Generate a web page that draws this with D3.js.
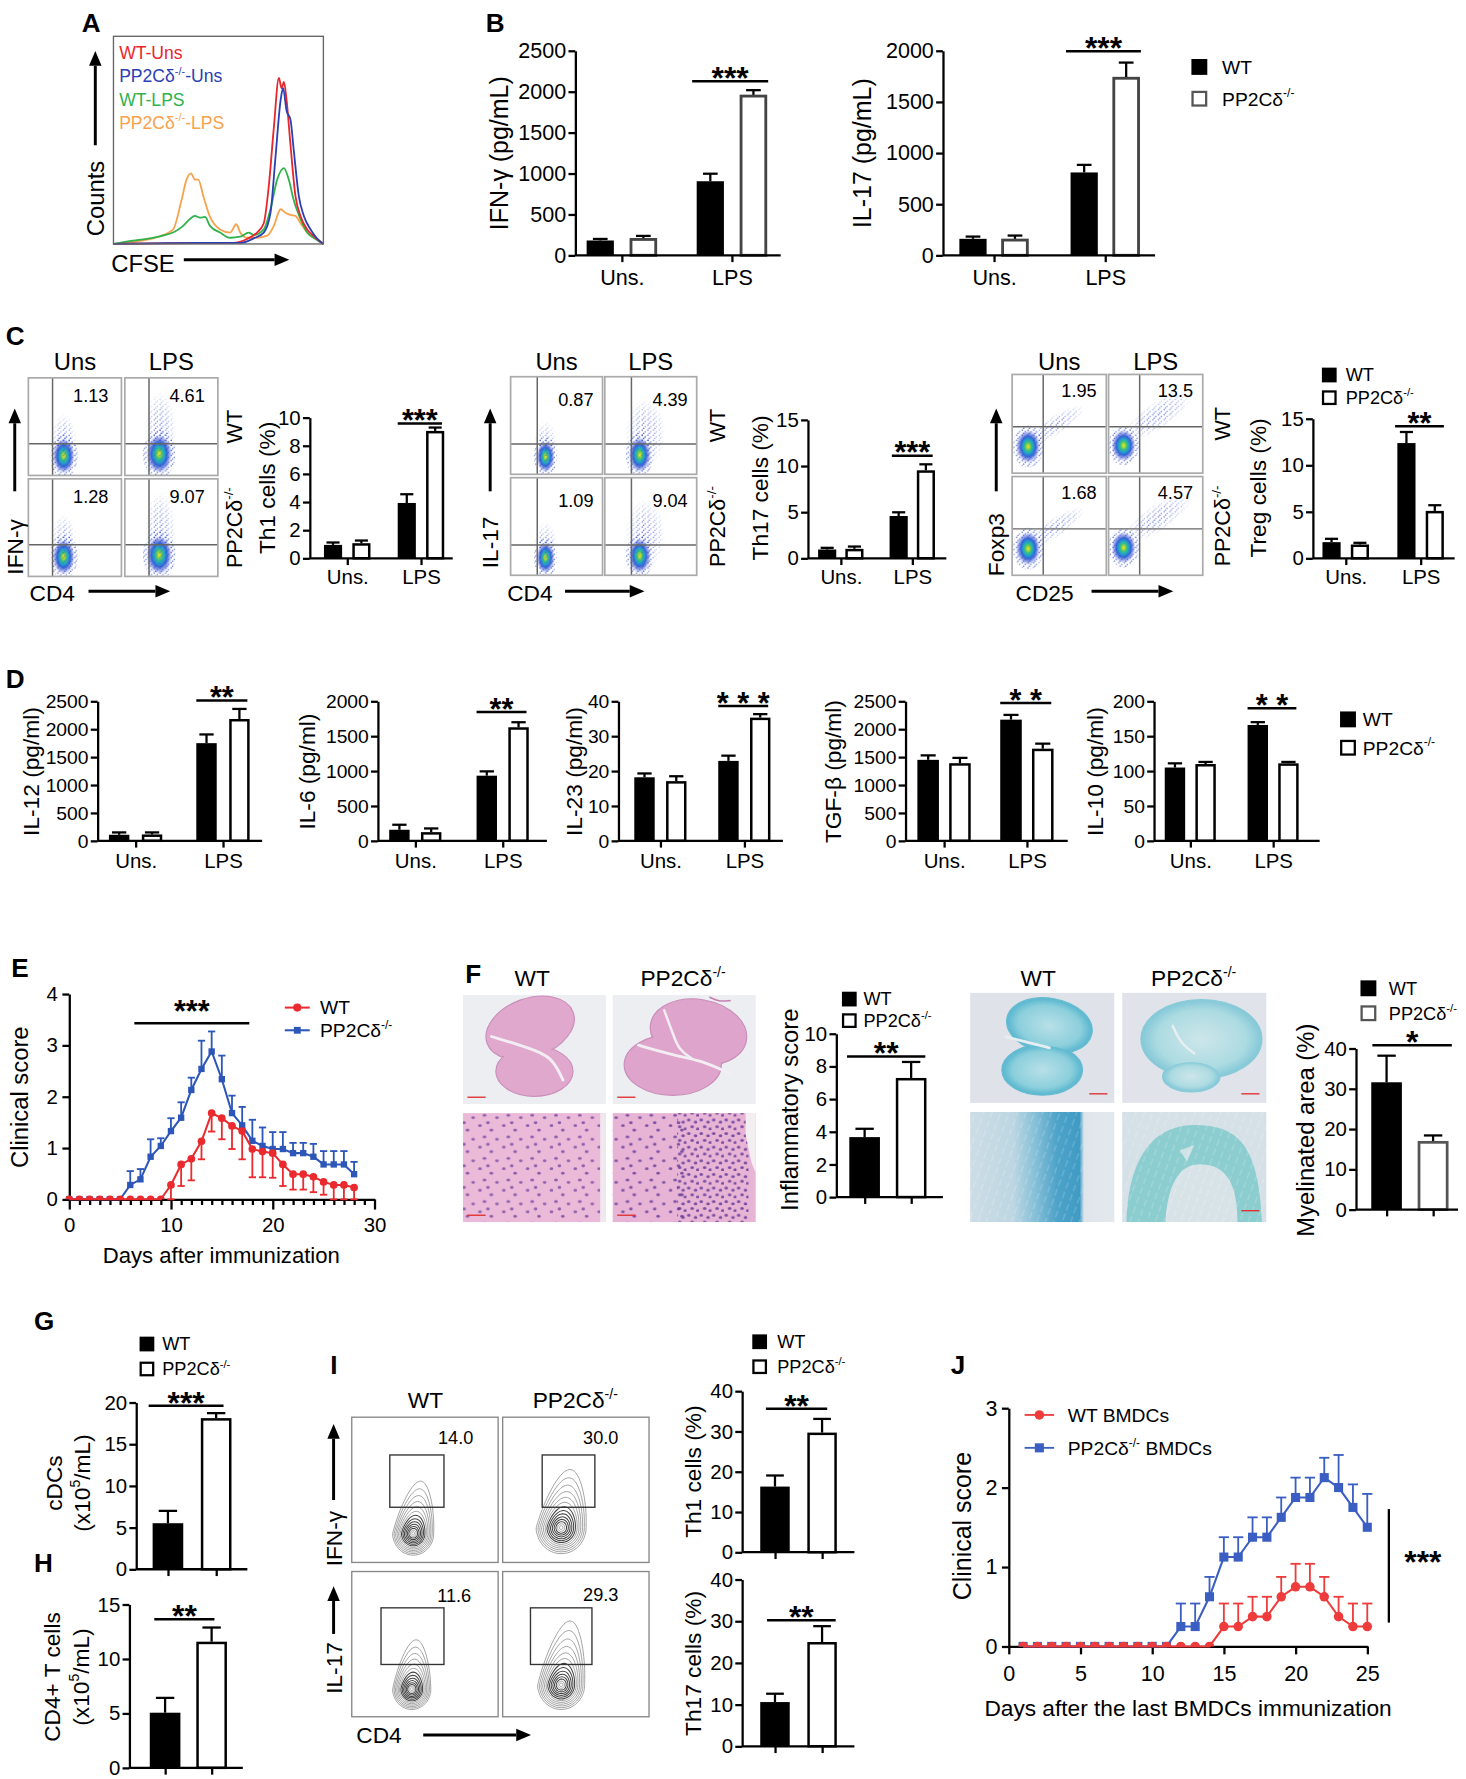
<!DOCTYPE html>
<html><head><meta charset="utf-8">
<script src="https://cdn.jsdelivr.net/npm/d3@7"></script>
<style>body{margin:0;background:#fff}svg{display:block}</style>
</head><body><script>
// ================= DATA =================
const CATS = ["Uns.", "LPS"];
const GENO = ["WT", "KO"];
const KO_LABEL = "PP2Cδ^{-/-}";

// Panel A: CFSE histograms (channel 0-1000, % of max)
const A_WTUns_x = [0,200,400,572,636,684,716,740,764,788,801,812,825,843,867,891,923,963,1000];
const A_WTUns_y = [0,0.3,0.4,0.5,2.4,5.5,10,28,56,80,75,78,69,48,23,13.5,7,3,0];
const A_KOUns_x = [0,200,400,604,668,716,748,772,796,808,825,843,859,883,907,939,971,1000];
const A_KOUns_y = [0,0.3,0.5,0.5,2.7,5.5,15,42,69,75,64,60,45,23,13.5,7,2.5,0];
const A_WTLPS_x = [0,93,157,220,284,332,364,388,412,436,460,508,556,604,644,668,716,748,780,812,835,859,891,923,963,1000];
const A_WTLPS_y = [0,1.6,2.4,3.7,5.5,8.7,12,13.5,12.7,13,8.7,5.5,3,3.5,5.5,4.3,7,16.7,31,36.5,31,21,12,5.5,2.4,0];
const A_KOLPS_x = [0,220,284,324,348,369,388,404,428,460,508,556,585,604,636,684,732,764,796,819,843,867,891,923,963,1000];
const A_KOLPS_y = [0,3.7,7,21,31,34,31,31,23,13,7,5.5,9.5,5.5,3,3,4,8.7,16.7,15,14,13.5,10,5.5,2.4,0];
const A_LEGEND = ["WT-Uns", "PP2Cδ^{-/-}-Uns", "WT-LPS", "PP2Cδ^{-/-}-LPS"];

// Panel B
const B_IFNG_WT = [181, 905], B_IFNG_WT_ERR = [19, 92], B_IFNG_KO = [209, 1961], B_IFNG_KO_ERR = [28, 57];
const B_IL17_WT = [161, 810], B_IL17_WT_ERR = [22, 74], B_IL17_KO = [161, 1743], B_IL17_KO_ERR = [32, 141];
const B_IFNG_TICKS = [0, 500, 1000, 1500, 2000, 2500];
const B_IL17_TICKS = [0, 500, 1000, 1500, 2000];

// Panel C
const C_TH1_WT = [0.95, 3.93], C_TH1_WT_ERR = [0.17, 0.62], C_TH1_KO = [1.07, 9.05], C_TH1_KO_ERR = [0.19, 0.24];
const C_TH17_WT = [0.95, 4.58], C_TH17_WT_ERR = [0.18, 0.40], C_TH17_KO = [1.02, 9.53], C_TH17_KO_ERR = [0.25, 0.65];
const C_TREG_WT = [1.73, 12.38], C_TREG_WT_ERR = [0.36, 1.19], C_TREG_KO = [1.48, 5.09], C_TREG_KO_ERR = [0.18, 0.61];
const C_TH1_TICKS = [0, 2, 4, 6, 8, 10];
const C_15_TICKS = [0, 5, 10, 15];
const C_TH1_QUAD = ["1.13", "4.61", "1.28", "9.07"];
const C_TH17_QUAD = ["0.87", "4.39", "1.09", "9.04"];
const C_TREG_QUAD = ["1.95", "13.5", "1.68", "4.57"];

// Panel D
const D_IL12_WT = [108, 1749], D_IL12_WT_ERR = [42, 156], D_IL12_KO = [114, 2182], D_IL12_KO_ERR = [36, 180];
const D_IL6_WT = [158, 933], D_IL6_WT_ERR = [72, 62], D_IL6_KO = [124, 1627], D_IL6_KO_ERR = [53, 72];
const D_IL23_WT = [18.2, 22.9], D_IL23_WT_ERR = [1.1, 1.5], D_IL23_KO = [17.1, 35.3], D_IL23_KO_ERR = [1.4, 1.0];
const D_TGFB_WT = [1450, 2170], D_TGFB_WT_ERR = [80, 85], D_TGFB_KO = [1390, 1650], D_TGFB_KO_ERR = [95, 90];
const D_IL10_WT = [105, 166], D_IL10_WT_ERR = [6, 4], D_IL10_KO = [110, 111], D_IL10_KO_ERR = [3, 2];
const D_2500_TICKS = [0, 500, 1000, 1500, 2000, 2500];
const D_2000_TICKS = [0, 500, 1000, 1500, 2000];
const D_40_TICKS = [0, 10, 20, 30, 40];
const D_200_TICKS = [0, 50, 100, 150, 200];

// Panel E (clinical score, days 0-28)
const E_DAYS = [0,1,2,3,4,5,6,7,8,9,10,11,12,13,14,15,16,17,18,19,20,21,22,23,24,25,26,27,28];
const E_WT = [0,0,0,0,0,0,0,0,0,0,0.28,0.68,0.79,1.13,1.68,1.58,1.43,1.33,0.98,0.93,0.9,0.68,0.49,0.49,0.44,0.34,0.28,0.28,0.23];
const E_WT_ERR = [0,0,0,0,0,0,0,0,0,0,0.28,0.42,0.42,0.35,0.36,0.41,0.45,0.55,0.55,0.5,0.48,0.42,0.3,0.3,0.3,0.25,0.28,0.28,0.23];
const E_KO = [0,0,0,0,0,0,0.28,0.39,0.83,1.04,1.33,1.59,2.13,2.54,2.88,2.34,1.68,1.44,1.14,1.04,0.98,0.98,0.9,0.9,0.83,0.68,0.68,0.68,0.49];
const E_KO_ERR = [0,0,0,0,0,0,0.27,0.2,0.34,0.15,0.25,0.3,0.24,0.55,0.39,0.46,0.34,0.36,0.41,0.36,0.33,0.33,0.2,0.2,0.25,0.26,0.26,0.26,0.24];

// Panel F
const F_INFL = [3.67, 7.29], F_INFL_ERR = [0.51, 0.98];
const F_MYEL = [31.6, 17.0], F_MYEL_ERR = [6.6, 1.4];

// Panels G, H, I
const G_CDC = [5.52, 18.12], G_CDC_ERR = [1.48, 0.6];
const H_CD4 = [5.06, 11.58], H_CD4_ERR = [1.36, 1.3];
const I_TH1 = [16.3, 29.7], I_TH1_ERR = [2.75, 3.4];
const I_TH17 = [10.6, 25.0], I_TH17_ERR = [2.0, 3.8];
const I_GATES = ["14.0", "30.0", "11.6", "29.3"];

// Panel J (days 1-25)
const J_DAYS = [1,2,3,4,5,6,7,8,9,10,11,12,13,14,15,16,17,18,19,20,21,22,23,24,25];
const J_WT = [0,0,0,0,0,0,0,0,0,0,0,0,0,0,0.25,0.25,0.375,0.375,0.625,0.75,0.75,0.625,0.375,0.25,0.25];
const J_WT_ERR = [0,0,0,0,0,0,0,0,0,0,0,0,0,0,0.29,0.29,0.25,0.25,0.25,0.29,0.29,0.25,0.25,0.29,0.29];
const J_KO = [0,0,0,0,0,0,0,0,0,0,0,0.25,0.25,0.625,1.125,1.125,1.375,1.375,1.625,1.875,1.875,2.125,2.0,1.75,1.5];
const J_KO_ERR = [0,0,0,0,0,0,0,0,0,0,0,0.29,0.29,0.25,0.25,0.25,0.25,0.25,0.25,0.25,0.25,0.25,0.41,0.29,0.42];

// ================= SETUP =================
const FONT = '"Liberation Sans", Arial, Helvetica, sans-serif';
const K = 1466 / 1292;
const svg = d3.select("body").append("svg").attr("width", 1466).attr("height", 1779).attr("font-family", FONT);
svg.append("rect").attr("width", 1466).attr("height", 1779).attr("fill", "#fff");
const defs = svg.append("defs");
const root = svg.append("g").attr("transform", `scale(${K})`);
const fmt = d3.format("d");

function rich(t, s, size) {
  const parts = s.split(/(\^\{[^}]*\})/);
  let sup = false;
  parts.forEach(p => {
    if (!p) return;
    const m = p.match(/^\^\{([^}]*)\}$/);
    if (m) { t.append("tspan").attr("dy", -0.42 * size).attr("font-size", 0.62 * size).text(m[1]); sup = true; }
    else { const ts = t.append("tspan").text(p); if (sup) { ts.attr("dy", 0.42 * size); sup = false; } }
  });
}
function T(g, x, y, s, o = {}) {
  const size = o.size || 17;
  const t = g.append("text").attr("x", x).attr("y", y).attr("font-size", size)
    .attr("fill", o.fill || "#000").attr("text-anchor", o.anchor || "start");
  if (o.bold) t.attr("font-weight", "bold");
  if (o.rot) t.attr("transform", `rotate(${o.rot},${x},${y})`);
  rich(t, s, size);
  return t;
}
function RT(g, xc, yc, s, size) { return T(g, xc + 0.35 * size, yc, s, { size, rot: -90, anchor: "middle" }); }
function letter(g, x, y, s) { T(g, x, y, s, { size: 23, bold: true }); }
function arrow(g, x1, y1, x2, y2, sw = 2.6, hl = 13, hw = 5.5) {
  const dx = x2 - x1, dy = y2 - y1, L = Math.hypot(dx, dy), ux = dx / L, uy = dy / L;
  const bx = x2 - ux * hl, by = y2 - uy * hl;
  g.append("line").attr("x1", x1).attr("y1", y1).attr("x2", bx).attr("y2", by).attr("stroke", "#000").attr("stroke-width", sw);
  g.append("path").attr("d", `M${x2},${y2}L${bx - uy * hw},${by + ux * hw}L${bx + uy * hw},${by - ux * hw}Z`).attr("fill", "#000");
}
function legend2(g, x, y1, y2, sq, tx, size, wStroke = "#000") {
  g.append("rect").attr("x", x).attr("y", y1).attr("width", sq).attr("height", sq).attr("fill", "#000");
  g.append("rect").attr("x", x + 1).attr("y", y2 + 1).attr("width", sq - 2).attr("height", sq - 2)
    .attr("fill", "#fff").attr("stroke", wStroke).attr("stroke-width", 2);
  T(g, tx, y1 + sq - 1, "WT", { size });
  T(g, tx, y2 + sq - 1, KO_LABEL, { size });
}
function styleAxis(a, size) {
  a.attr("font-size", size).attr("font-family", FONT);
  a.select(".domain").attr("stroke-width", 2).attr("stroke", "#000");
  a.selectAll(".tick line").attr("stroke-width", 2).attr("stroke", "#000");
  a.selectAll(".tick text").attr("fill", "#000");
}

// ---------- bar chart ----------
function bars4(wt, wte, ko, koe) { return CATS.flatMap((g, i) => [{ g, s: "WT", v: wt[i], e: wte[i] }, { g, s: "KO", v: ko[i], e: koe[i] }]); }
function bars2(v, e) { return GENO.map((g, i) => ({ g, s: g, v: v[i], e: e[i] })); }

function barChart(g, c) {
  const y = d3.scaleLinear().domain([0, c.max]).range([c.base, c.top]);
  const groups = c.two ? GENO : CATS;
  const gx = d3.scalePoint().domain(groups).range(c.centers);
  const inner = c.two ? null : d3.scaleBand().domain(GENO).range([-(c.bw + c.gap / 2), c.bw + c.gap / 2]).paddingInner(c.gap / (c.bw + c.gap));
  const bw = c.two ? c.bw : inner.bandwidth();
  const left = d => c.two ? gx(d.g) - bw / 2 : gx(d.g) + inner(d.s);
  c.bars.forEach(d => {
    const x0 = left(d), yt = y(d.v);
    if (d.s === "WT") {
      g.append("rect").attr("x", x0).attr("y", yt).attr("width", bw).attr("height", c.base - yt).attr("fill", "#000");
    } else {
      g.append("rect").attr("x", x0 + 1.1).attr("y", yt + 1.1).attr("width", bw - 2.2).attr("height", c.base - yt - 1.1)
        .attr("fill", "#fff").attr("stroke", c.wStroke || "#000").attr("stroke-width", c.wsw || 2.2);
    }
    const cx = x0 + bw / 2, ye = y(d.v + d.e), ch = (c.cap || 0.33) * bw;
    g.append("line").attr("x1", cx).attr("x2", cx).attr("y1", yt).attr("y2", ye).attr("stroke", "#000").attr("stroke-width", 2);
    g.append("line").attr("x1", cx - ch).attr("x2", cx + ch).attr("y1", ye).attr("y2", ye).attr("stroke", "#000").attr("stroke-width", 2);
  });
  g.append("line").attr("x1", c.ax).attr("x2", c.xEnd).attr("y1", c.base).attr("y2", c.base).attr("stroke", "#000").attr("stroke-width", 2);
  const xa = g.append("g").attr("transform", `translate(0,${c.base})`)
    .call(d3.axisBottom(gx).tickSize(6).tickPadding(c.catPad || 4).tickFormat(c.two ? () => "" : d => d));
  xa.select(".domain").remove();
  styleAxis(xa, c.catSize || 18);
  const ya = g.append("g").attr("transform", `translate(${c.ax},0)`)
    .call(d3.axisLeft(y).tickValues(c.ticks).tickSize(6).tickSizeOuter(0).tickPadding(c.tickPad || 2).tickFormat(fmt));
  styleAxis(ya, c.tickSize || 18);
  if (c.sig) {
    const s = c.sig;
    const a = c.bars.find(d => d.g === s.a[0] && d.s === s.a[1]);
    const b = c.bars.find(d => d.g === s.b[0] && d.s === s.b[1]);
    const x1 = left(a) + (s.o1 || 0), x2 = left(b) + bw + (s.o2 || 0), ys = y(s.v);
    g.append("line").attr("x1", x1).attr("x2", x2).attr("y1", ys).attr("y2", ys).attr("stroke", "#000").attr("stroke-width", 2.2);
    const ss = s.size || 27;
    T(g, (x1 + x2) / 2, ys + 0.25 * ss, s.label, { size: ss, anchor: "middle", bold: true });
  }
  if (c.ylab) c.ylab.forEach(l => RT(g, l.x, l.yc, l.t, l.size || 20));
}

// ---------- gradients/patterns ----------
const gd = defs.append("radialGradient").attr("id", "dens");
[[0, "#f0e020", 1], [0.12, "#a8d838", 1], [0.26, "#3cc07a", 1], [0.42, "#20a2cc", 1], [0.6, "#2256d2", 0.9], [0.8, "#3a4ed0", 0.45], [1, "#7080e0", 0]]
  .forEach(s => gd.append("stop").attr("offset", s[0]).attr("stop-color", s[1]).attr("stop-opacity", s[2]));
const gm = defs.append("radialGradient").attr("id", "sprMask");
[[0, "#fff", 1], [0.55, "#fff", 0.6], [1, "#fff", 0]].forEach(s => gm.append("stop").attr("offset", s[0]).attr("stop-color", s[1]).attr("stop-opacity", s[2]));
const pDots = defs.append("pattern").attr("id", "dots").attr("patternUnits", "userSpaceOnUse").attr("width", 5).attr("height", 4.5);
[[1, 1, "#3a52c8"], [3.6, 2.6, "#6a80dc"], [2.2, 4, "#4a62d0"]].forEach(p => pDots.append("circle").attr("cx", p[0]).attr("cy", p[1]).attr("r", 0.65).attr("fill", p[2]));
const pS = defs.append("pattern").attr("id", "nucS").attr("patternUnits", "userSpaceOnUse").attr("width", 21).attr("height", 19);
[[3, 4], [13, 8], [7, 14], [18, 16], [10, 1.5]].forEach(p => pS.append("ellipse").attr("cx", p[0]).attr("cy", p[1]).attr("rx", 1.6).attr("ry", 1.2).attr("fill", "#6a3f9c"));
const pD = defs.append("pattern").attr("id", "nucD").attr("patternUnits", "userSpaceOnUse").attr("width", 11).attr("height", 12);
[[2, 3], [8, 5], [5, 9], [10, 11]].forEach(p => pD.append("ellipse").attr("cx", p[0]).attr("cy", p[1]).attr("rx", 1.6).attr("ry", 1.3).attr("fill", "#5e3592"));
const lw = defs.append("linearGradient").attr("id", "lfbW");
[[0, "#cddde6"], [0.3, "#bcd6e2"], [0.45, "#86c0d8"], [0.6, "#4ea3c9"], [0.76, "#3f9bc5"], [0.79, "#dfe6eb"], [1, "#e3e8ec"]]
  .forEach(s => lw.append("stop").attr("offset", s[0]).attr("stop-color", s[1]));
const pStr = defs.append("pattern").attr("id", "lfbTex").attr("patternUnits", "userSpaceOnUse").attr("width", 7).attr("height", 9).attr("patternTransform", "rotate(20)");
pStr.append("line").attr("x1", 2).attr("x2", 2).attr("y1", 0).attr("y2", 6).attr("stroke", "#ffffff").attr("stroke-width", 1).attr("opacity", 0.22);
const lt = defs.append("radialGradient").attr("id", "lfbT");
[[0, "#b8e0e8"], [0.75, "#8ccfdc"], [1, "#5cb8d0"]].forEach(s => lt.append("stop").attr("offset", s[0]).attr("stop-color", s[1]));
const lt2 = defs.append("radialGradient").attr("id", "lfbT2");
[[0, "#cde6ea"], [0.75, "#acdbe2"], [1, "#86c9d8"]].forEach(s => lt2.append("stop").attr("offset", s[0]).attr("stop-color", s[1]));
let clipN = 0;
function clipRect(x, y, w, h) {
  const id = "cl" + (clipN++);
  defs.append("clipPath").attr("id", id).append("rect").attr("x", x).attr("y", y).attr("width", w).attr("height", h);
  return `url(#${id})`;
}

// ================= PANEL A =================
{
  const g = root.append("g");
  letter(g, 72, 28, "A");
  const x = d3.scaleLinear().domain([0, 1000]).range([100, 285]);
  const y = d3.scaleLinear().domain([0, 100]).range([215, 32]);
  const line = d3.line().x(d => x(d[0])).y(d => y(d[1])).curve(d3.curveMonotoneX);
  const series = [[A_KOLPS_x, A_KOLPS_y, "#f7a24c"], [A_WTLPS_x, A_WTLPS_y, "#2fb24b"], [A_WTUns_x, A_WTUns_y, "#e8262c"], [A_KOUns_x, A_KOUns_y, "#2b40b4"]];
  series.forEach(s => g.append("path").datum(s[0].map((v, i) => [v, s[1][i]])).attr("d", line)
    .attr("fill", "none").attr("stroke", s[2]).attr("stroke-width", 1.6));
  g.append("rect").attr("x", 100).attr("y", 32).attr("width", 185).attr("height", 183).attr("fill", "none").attr("stroke", "#666").attr("stroke-width", 1.2);
  const cols = ["#e8262c", "#2b40b4", "#2fb24b", "#f7a24c"];
  A_LEGEND.forEach((t, i) => T(g, 105, 52 + i * 20.5, t, { size: 15.5, fill: cols[i] }));
  arrow(g, 84, 128, 84, 45);
  RT(g, 84, 175, "Counts", 21);
  T(g, 98, 240, "CFSE", { size: 21 });
  arrow(g, 162, 229, 255, 229);
}

// ================= PANEL B =================
{
  const g = root.append("g");
  letter(g, 428, 28, "B");
  barChart(g, { ax: 507, xEnd: 688, base: 225, top: 44.7, max: 2500, ticks: B_IFNG_TICKS, centers: [548, 645], bw: 24, gap: 14,
    bars: bars4(B_IFNG_WT, B_IFNG_WT_ERR, B_IFNG_KO, B_IFNG_KO_ERR), catSize: 19, catPad: 7, tickSize: 19, wStroke: "#444", wsw: 2.5, cap: 0.27,
    sig: { a: ["LPS", "WT"], b: ["LPS", "KO"], v: 2126, label: "***", o1: -4, o2: 1, size: 28 },
    ylab: [{ x: 440, yc: 135, t: "IFN-γ (pg/mL)", size: 22 }] });
  barChart(g, { ax: 831, xEnd: 1018, base: 225, top: 44.7, max: 2000, ticks: B_IL17_TICKS, centers: [876, 974], bw: 24, gap: 13,
    bars: bars4(B_IL17_WT, B_IL17_WT_ERR, B_IL17_KO, B_IL17_KO_ERR), catSize: 19, catPad: 7, tickSize: 19, wStroke: "#444", wsw: 2.5, cap: 0.27,
    sig: { a: ["LPS", "WT"], b: ["LPS", "KO"], v: 1994, label: "***", o1: -4, o2: 1, size: 28 },
    ylab: [{ x: 760, yc: 135, t: "IL-17 (pg/mL)", size: 22 }] });
  legend2(g, 1050, 52, 80, 14, 1077, 17, "#555");
}

// ================= PANEL C =================
let maskN = 0;
function flowBox(g, x, y, w, h, vx, hy, blobs, num, nfx, ndy) {
  g.append("rect").attr("x", x).attr("y", y).attr("width", w).attr("height", h).attr("fill", "#fff");
  const cg = g.append("g").attr("clip-path", clipRect(x, y, w, h));
  blobs.forEach(b => {
    const cx = x + b[0] * w, cy = y + b[1] * h, tr = `rotate(${b[4] || 0},${cx},${cy})`;
    if (b[5] === "spr") {
      const id = "mk" + (maskN++);
      defs.append("mask").attr("id", id).attr("maskUnits", "userSpaceOnUse").attr("x", x).attr("y", y).attr("width", w).attr("height", h)
        .append("ellipse").attr("cx", cx).attr("cy", cy).attr("rx", b[2] * w).attr("ry", b[3] * h).attr("fill", "url(#sprMask)").attr("transform", tr);
      cg.append("rect").attr("x", x).attr("y", y).attr("width", w).attr("height", h).attr("fill", "url(#dots)").attr("mask", `url(#${id})`);
    } else {
      cg.append("ellipse").attr("cx", cx).attr("cy", cy).attr("rx", b[2] * w * 1.25).attr("ry", b[3] * h * 1.25)
        .attr("fill", "url(#dots)").attr("transform", tr).attr("opacity", 0.9);
      cg.append("ellipse").attr("cx", cx).attr("cy", cy).attr("rx", b[2] * w).attr("ry", b[3] * h)
        .attr("fill", "url(#dens)").attr("transform", tr);
    }
  });
  g.append("line").attr("x1", x + vx * w).attr("x2", x + vx * w).attr("y1", y).attr("y2", y + h).attr("stroke", "#666").attr("stroke-width", 1.3);
  g.append("line").attr("x1", x).attr("x2", x + w).attr("y1", y + hy * h).attr("y2", y + hy * h).attr("stroke", "#666").attr("stroke-width", 1.3);
  g.append("rect").attr("x", x).attr("y", y).attr("width", w).attr("height", h).attr("fill", "none").attr("stroke", "#aaa").attr("stroke-width", 1.5);
  T(g, x + nfx * w, y + ndy, num, { size: 16, anchor: "middle" });
}
function flowPanel(g, o) {
  const xs = o.xs, ys = o.ys, w = o.w, h = o.h;
  T(g, xs[0] + w / 2, 326, "Uns", { size: 21, anchor: "middle" });
  T(g, xs[1] + w / 2, 326, "LPS", { size: 21, anchor: "middle" });
  for (let r = 0; r < 2; r++) for (let c = 0; c < 2; c++) {
    flowBox(g, xs[c], ys[r], w, h, o.vx, o.hy, o.blobs[c], o.nums[r * 2 + c], o.nfx, o.ndy);
  }
  RT(g, o.rowX, ys[0] + h / 2, "WT", 19);
  RT(g, o.rowX, ys[1] + h / 2, KO_LABEL, 19);
  arrow(g, o.arX, 433, o.arX, 360);
  RT(g, o.arX, o.yLabYc, o.yLab, 20);
  T(g, o.xLabX, 530, o.xLab, { size: 20 });
  arrow(g, o.xArr[0], 521, o.xArr[1], 521);
}
{
  const g = root.append("g");
  letter(g, 5, 304, "C");
  flowPanel(g, { xs: [25, 110], ys: [333, 422], w: 82, h: 86, vx: 0.26, hy: 0.675, nums: C_TH1_QUAD, nfx: 0.67, ndy: 21,
    blobs: [[[0.38, 0.8, 0.12, 0.18], [0.38, 0.66, 0.14, 0.3, 0, "spr"]], [[0.37, 0.78, 0.14, 0.2], [0.38, 0.55, 0.17, 0.42, 0, "spr"]]],
    rowX: 207, arX: 13, yLab: "IFN-γ", yLabYc: 482, xLab: "CD4", xLabX: 26, xArr: [78, 150] });
  barChart(g, { ax: 273, xEnd: 399, base: 492, top: 368, max: 10, ticks: C_TH1_TICKS, centers: [306, 371], bw: 16, gap: 9,
    bars: bars4(C_TH1_WT, C_TH1_WT_ERR, C_TH1_KO, C_TH1_KO_ERR), catSize: 18, catPad: 4, tickSize: 18, cap: 0.36,
    sig: { a: ["LPS", "WT"], b: ["LPS", "KO"], v: 9.57, label: "***", o1: 0, o2: -2, size: 27 },
    ylab: [{ x: 235, yc: 430, t: "Th1 cells (%)", size: 20 }] });

  flowPanel(g, { xs: [450, 533], ys: [332, 421], w: 81, h: 86, vx: 0.29, hy: 0.69, nums: C_TH17_QUAD, nfx: 0.71, ndy: 26,
    blobs: [[[0.38, 0.82, 0.1, 0.16], [0.38, 0.72, 0.13, 0.27, 0, "spr"]], [[0.38, 0.8, 0.12, 0.18], [0.44, 0.58, 0.22, 0.36, 0, "spr"]]],
    rowX: 632, arX: 432, yLab: "IL-17", yLabYc: 478, xLab: "CD4", xLabX: 447, xArr: [498, 568] });
  barChart(g, { ax: 712, xEnd: 834, base: 492, top: 370, max: 15, ticks: C_15_TICKS, centers: [741, 804], bw: 16, gap: 8,
    bars: bars4(C_TH17_WT, C_TH17_WT_ERR, C_TH17_KO, C_TH17_KO_ERR), catSize: 18, catPad: 4, tickSize: 18, cap: 0.36,
    sig: { a: ["LPS", "WT"], b: ["LPS", "KO"], v: 11.1, label: "***", o1: 2, o2: -2, size: 27 },
    ylab: [{ x: 670, yc: 430, t: "Th17 cells (%)", size: 20 }] });

  flowPanel(g, { xs: [892, 977], ys: [330, 420], w: 83, h: 87, vx: 0.33, hy: 0.53, nums: C_TREG_QUAD, nfx: 0.71, ndy: 20,
    blobs: [[[0.17, 0.73, 0.13, 0.17], [0.45, 0.52, 0.38, 0.1, -33, "spr"]], [[0.16, 0.72, 0.13, 0.16], [0.52, 0.42, 0.42, 0.14, -33, "spr"]]],
    rowX: 1077, arX: 878, yLab: "Foxp3", yLabYc: 480, xLab: "CD25", xLabX: 895, xArr: [962, 1034] });
  barChart(g, { ax: 1157, xEnd: 1282, base: 492, top: 369, max: 15, ticks: C_15_TICKS, centers: [1186, 1252], bw: 16, gap: 9,
    bars: bars4(C_TREG_WT, C_TREG_WT_ERR, C_TREG_KO, C_TREG_KO_ERR), catSize: 18, catPad: 4, tickSize: 18, cap: 0.36,
    sig: { a: ["LPS", "WT"], b: ["LPS", "KO"], v: 14.2, label: "**", o1: -2, o2: 0, size: 27 },
    ylab: [{ x: 1109, yc: 430, t: "Treg cells (%)", size: 20 }] });
  legend2(g, 1165, 324, 344, 13, 1186, 16);
}

// ================= PANEL D =================
{
  const g = root.append("g");
  letter(g, 5, 606, "D");
  const common = { base: 741, top: 618, catSize: 18, catPad: 5, tickSize: 17, cap: 0.35 };
  const defsD = [
    { ax: 86, xEnd: 231, max: 2500, ticks: D_2500_TICKS, centers: [119.5, 196.5], bw: 18, gap: 11, d: [D_IL12_WT, D_IL12_WT_ERR, D_IL12_KO, D_IL12_KO_ERR], sv: 2512, sl: "**", lx: 27, lt: "IL-12 (pg/ml)" },
    { ax: 333, xEnd: 482, max: 2000, ticks: D_2000_TICKS, centers: [366, 443], bw: 18, gap: 10, d: [D_IL6_WT, D_IL6_WT_ERR, D_IL6_KO, D_IL6_KO_ERR], sv: 1847, sl: "**", lx: 271, lt: "IL-6 (pg/ml)" },
    { ax: 545, xEnd: 690, max: 40, ticks: D_40_TICKS, centers: [582, 656], bw: 18, gap: 10, d: [D_IL23_WT, D_IL23_WT_ERR, D_IL23_KO, D_IL23_KO_ERR], sv: 38.6, sl: "* * *", lx: 506, lt: "IL-23 (pg/ml)" },
    { ax: 798, xEnd: 941, max: 2500, ticks: D_2500_TICKS, centers: [832, 905], bw: 19, gap: 9, d: [D_TGFB_WT, D_TGFB_WT_ERR, D_TGFB_KO, D_TGFB_KO_ERR], sv: 2470, sl: "* *", lx: 734, lt: "TGF-β (pg/ml)" },
    { ax: 1017, xEnd: 1163, max: 200, ticks: D_200_TICKS, centers: [1049, 1122], bw: 18, gap: 9, d: [D_IL10_WT, D_IL10_WT_ERR, D_IL10_KO, D_IL10_KO_ERR], sv: 190, sl: "* *", lx: 965, lt: "IL-10 (pg/ml)" }
  ];
  defsD.forEach(c => barChart(g, Object.assign({}, common, c, {
    bars: bars4(c.d[0], c.d[1], c.d[2], c.d[3]),
    sig: { a: ["LPS", "WT"], b: ["LPS", "KO"], v: c.sv, label: c.sl, o1: 0, o2: -2, size: 27 },
    ylab: [{ x: c.lx, yc: 680, t: c.lt, size: 20 }] })));
  legend2(g, 1181, 627, 652, 14, 1201, 17);
}

// ================= line chart helper =================
function lineChart(g, c) {
  const x = d3.scaleLinear().domain(c.xd).range(c.xr);
  const y = d3.scaleLinear().domain(c.yd).range(c.yr);
  const base = c.yr[0];
  const xa = g.append("g").attr("transform", `translate(0,${base})`)
    .call(d3.axisBottom(x).tickValues(c.xticks).tickSize(c.minorLen).tickSizeOuter(0).tickPadding(c.xpad)
      .tickFormat(d => c.xlabels.includes(d) ? d : ""));
  styleAxis(xa, c.xsize);
  xa.selectAll(".tick line").attr("y2", d => c.xlabels.includes(d) ? c.majorLen : c.minorLen);
  const ya = g.append("g").attr("transform", `translate(${c.xr[0]},0)`)
    .call(d3.axisLeft(y).tickValues(c.yticks).tickSize(6).tickSizeOuter(0).tickPadding(4).tickFormat(fmt));
  styleAxis(ya, c.ysize);
  const clip = clipRect(c.xr[0] - 15, c.yr[1] - 40, c.xr[1] - c.xr[0] + 30, base - c.yr[1] + 40);
  c.series.forEach(s => {
    const eg = g.append("g");
    s.x.forEach((d, i) => {
      if (!(s.e[i] > 0)) return;
      const cx = x(d), y1 = y(s.v[i]), y2 = y(s.v[i] + s.dir * s.e[i]);
      eg.append("line").attr("x1", cx).attr("x2", cx).attr("y1", y1).attr("y2", y2).attr("stroke", s.color).attr("stroke-width", 1.6);
      eg.append("line").attr("x1", cx - c.cap).attr("x2", cx + c.cap).attr("y1", y2).attr("y2", y2).attr("stroke", s.color).attr("stroke-width", 1.6);
    });
    g.append("path").datum(s.x.map((d, i) => [d, s.v[i]])).attr("d", d3.line().x(d => x(d[0])).y(d => y(d[1])))
      .attr("fill", "none").attr("stroke", s.color).attr("stroke-width", 1.8);
    const mg = g.append("g").attr("clip-path", clip);
    s.x.forEach((d, i) => {
      if (s.shape === "circle") mg.append("circle").attr("cx", x(d)).attr("cy", y(s.v[i])).attr("r", s.size).attr("fill", s.color);
      else mg.append("rect").attr("x", x(d) - s.size / 2).attr("y", y(s.v[i]) - s.size / 2).attr("width", s.size).attr("height", s.size).attr("fill", s.color);
    });
  });
  return { x, y };
}

// ================= PANEL E =================
{
  const g = root.append("g");
  letter(g, 10, 861, "E");
  const sc = lineChart(g, { xd: [0, 30], xr: [61, 330], yd: [0, 4], yr: [1057, 876],
    xticks: d3.range(0, 31), xlabels: [0, 10, 20, 30], minorLen: 5, majorLen: 9, xpad: 11, xsize: 18,
    yticks: [0, 1, 2, 3, 4], ysize: 18, cap: 3.2,
    series: [
      { x: E_DAYS, v: E_KO, e: E_KO_ERR, dir: 1, color: "#2c56b8", shape: "rect", size: 5.6 },
      { x: E_DAYS, v: E_WT, e: E_WT_ERR, dir: -1, color: "#ea2a2e", shape: "circle", size: 3.4 }
    ] });
  const sx1 = sc.x(6.4), sx2 = sc.x(17.7), sy = sc.y(3.43);
  g.append("line").attr("x1", sx1).attr("x2", sx2).attr("y1", sy).attr("y2", sy).attr("stroke", "#000").attr("stroke-width", 2.2);
  T(g, (sx1 + sx2) / 2, sy - 1, "***", { size: 27, anchor: "middle", bold: true });
  T(g, 195, 1113, "Days after immunization", { size: 19.5, anchor: "middle" });
  RT(g, 17, 967, "Clinical score", 21);
  g.append("line").attr("x1", 251).attr("x2", 273).attr("y1", 888).attr("y2", 888).attr("stroke", "#ea2a2e").attr("stroke-width", 1.8);
  g.append("circle").attr("cx", 262).attr("cy", 888).attr("r", 3.6).attr("fill", "#ea2a2e");
  T(g, 282, 894, "WT", { size: 17 });
  g.append("line").attr("x1", 251).attr("x2", 273).attr("y1", 908).attr("y2", 908).attr("stroke", "#2c56b8").attr("stroke-width", 1.8);
  g.append("rect").attr("x", 259).attr("y", 905).attr("width", 6).attr("height", 6).attr("fill", "#2c56b8");
  T(g, 282, 914, KO_LABEL, { size: 17 });
}

// ================= PANEL F =================
function ellipseTissue(g, x, y, w, h, lobes, fill, stroke) {
  lobes.forEach(l => g.append("ellipse").attr("cx", x + l[0] * w).attr("cy", y + l[1] * h).attr("rx", l[2] * w).attr("ry", l[3] * h)
    .attr("fill", fill).attr("stroke", stroke).attr("stroke-width", 1).attr("transform", `rotate(${l[4] || 0},${x + l[0] * w},${y + l[1] * h})`));
  lobes.forEach(l => g.append("ellipse").attr("cx", x + l[0] * w).attr("cy", y + l[1] * h).attr("rx", l[2] * w - 1).attr("ry", l[3] * h - 1)
    .attr("fill", fill).attr("transform", `rotate(${l[4] || 0},${x + l[0] * w},${y + l[1] * h})`));
}
function crack(g, x, y, w, h, pts, col, sw) {
  g.append("path").attr("d", d3.line().curve(d3.curveBasis)(pts.map(p => [x + p[0] * w, y + p[1] * h])))
    .attr("fill", "none").attr("stroke", col).attr("stroke-width", sw).attr("stroke-linecap", "round");
}
function scaleBar(g, x, y) {
  g.append("line").attr("x1", x).attr("x2", x + 16).attr("y1", y).attr("y2", y).attr("stroke", "#e03030").attr("stroke-width", 1.2);
}
{
  const g = root.append("g");
  letter(g, 410, 866, "F");
  const W = 126, H = 96;
  let x = 408, y = 877;
  g.append("rect").attr("x", x).attr("y", y).attr("width", W).attr("height", H).attr("fill", "#eceef2");
  ellipseTissue(g, x, y, W, H, [[0.47, 0.3, 0.32, 0.27, -20], [0.5, 0.7, 0.27, 0.23, 0]], "#e0a8cd", "#c88db8");
  crack(g, x, y, W, H, [[0.2, 0.38], [0.45, 0.48], [0.62, 0.56], [0.7, 0.78]], "#f3eef3", 2.5);
  scaleBar(g, x + 4, y + H - 6);
  x = 540;
  g.append("rect").attr("x", x).attr("y", y).attr("width", W).attr("height", H).attr("fill", "#eceef2");
  ellipseTissue(g, x, y, W, H, [[0.6, 0.34, 0.34, 0.3, 10], [0.42, 0.64, 0.34, 0.28, 0]], "#dea4cb", "#c88db8");
  crack(g, x, y, W, H, [[0.18, 0.46], [0.45, 0.56], [0.62, 0.6], [0.82, 0.72]], "#f3eef3", 2.5);
  crack(g, x, y, W, H, [[0.36, 0.14], [0.42, 0.35], [0.46, 0.5], [0.55, 0.58]], "#f3eef3", 2.2);
  crack(g, x, y, W, H, [[0.68, 0.02], [0.74, 0.06], [0.82, 0.05]], "#c77fb0", 1.5);
  scaleBar(g, x + 4, y + H - 6);
  y = 981; x = 408;
  g.append("rect").attr("x", x).attr("y", y).attr("width", W).attr("height", H).attr("fill", "#ebbad9");
  g.append("rect").attr("x", x).attr("y", y).attr("width", W * 0.96).attr("height", H).attr("fill", "url(#nucS)").attr("opacity", 0.75);
  g.append("rect").attr("x", x + W * 0.96).attr("y", y).attr("width", W * 0.04).attr("height", H).attr("fill", "#f1e8ee");
  scaleBar(g, x + 4, y + H - 6);
  x = 540;
  g.append("rect").attr("x", x).attr("y", y).attr("width", W).attr("height", H).attr("fill", "#e8b4d6");
  g.append("rect").attr("x", x).attr("y", y).attr("width", W * 0.5).attr("height", H).attr("fill", "url(#nucS)").attr("opacity", 0.85);
  g.append("rect").attr("x", x + W * 0.45).attr("y", y).attr("width", W * 0.5).attr("height", H).attr("fill", "url(#nucD)").attr("opacity", 0.8);
  g.append("path").attr("d", `M${x + W * 0.93},${y}L${x + W},${y}L${x + W},${y + H * 0.55}L${x + W * 0.97},${y + H * 0.45}L${x + W * 0.93},${y + H * 0.2}Z`).attr("fill", "#f3eef2");
  scaleBar(g, x + 4, y + H - 6);
  T(g, 469, 869, "WT", { size: 20, anchor: "middle" });
  T(g, 602, 869, KO_LABEL, { size: 20, anchor: "middle" });

  const W2 = 127, H2 = 97;
  x = 855; y = 875;
  g.append("rect").attr("x", x).attr("y", y).attr("width", W2).attr("height", H2).attr("fill", "#dfe3e9");
  ellipseTissue(g, x, y, W2, H2, [[0.55, 0.3, 0.3, 0.25, 10], [0.5, 0.7, 0.28, 0.23, 0]], "url(#lfbT)", "#66bbd0");
  crack(g, x, y, W2, H2, [[0.25, 0.4], [0.4, 0.45], [0.55, 0.5]], "#e6eef2", 2.5);
  scaleBar(g, x + W2 - 22, y + H2 - 8);
  x = 989;
  g.append("rect").attr("x", x).attr("y", y).attr("width", W2).attr("height", H2).attr("fill", "#e0e4ea");
  ellipseTissue(g, x, y, W2, H2, [[0.55, 0.42, 0.42, 0.36, 0], [0.48, 0.76, 0.2, 0.14, 0]], "url(#lfbT2)", "#88cad8");
  crack(g, x, y, W2, H2, [[0.35, 0.3], [0.4, 0.45], [0.5, 0.55]], "#e6eef2", 2.2);
  scaleBar(g, x + W2 - 22, y + H2 - 8);
  y = 980; x = 855;
  g.append("rect").attr("x", x).attr("y", y).attr("width", W2).attr("height", H2).attr("fill", "url(#lfbW)");
  g.append("rect").attr("x", x).attr("y", y).attr("width", W2 * 0.78).attr("height", H2).attr("fill", "url(#lfbTex)");
  x = 989;
  g.append("rect").attr("x", x).attr("y", y).attr("width", W2).attr("height", H2).attr("fill", "#d5e0e7");
  g.append("path").attr("d", `M${x + W2 * 0.03},${y + H2}C${x + W2 * 0.05},${y + H2 * 0.2} ${x + W2 * 0.35},${y + H2 * 0.1} ${x + W2 * 0.55},${y + H2 * 0.12}C${x + W2 * 0.8},${y + H2 * 0.14} ${x + W2 * 0.95},${y + H2 * 0.3} ${x + W2 * 0.97},${y + H2}Z`).attr("fill", "#8ccdd0");
  g.append("path").attr("d", `M${x + W2 * 0.3},${y + H2}C${x + W2 * 0.32},${y + H2 * 0.55} ${x + W2 * 0.45},${y + H2 * 0.45} ${x + W2 * 0.58},${y + H2 * 0.48}C${x + W2 * 0.72},${y + H2 * 0.5} ${x + W2 * 0.8},${y + H2 * 0.65} ${x + W2 * 0.8},${y + H2}Z`).attr("fill", "#d8e3e8");
  g.append("path").attr("d", `M${x + W2 * 0.4},${y + H2 * 0.35}L${x + W2 * 0.5},${y + H2 * 0.3}L${x + W2 * 0.45},${y + H2 * 0.45}Z`).attr("fill", "#cfe2e6");
  g.append("rect").attr("x", x).attr("y", y).attr("width", W2).attr("height", H2).attr("fill", "url(#lfbTex)");
  scaleBar(g, x + W2 - 22, y + H2 - 10);
  T(g, 915, 869, "WT", { size: 20, anchor: "middle" });
  T(g, 1052, 869, KO_LABEL, { size: 20, anchor: "middle" });

  barChart(g, { two: true, ax: 737, xEnd: 831, base: 1055, top: 911, max: 10, ticks: [0, 2, 4, 6, 8, 10], centers: [762, 803], bw: 27,
    bars: bars2(F_INFL, F_INFL_ERR), tickSize: 18, cap: 0.3,
    sig: { a: ["WT", "WT"], b: ["KO", "KO"], v: 8.61, label: "**", o1: -2, o2: -1, size: 28 },
    ylab: [{ x: 696, yc: 978, t: "Inflammatory score", size: 21 }] });
  legend2(g, 742, 874, 893, 13, 761, 16);
  barChart(g, { two: true, ax: 1195, xEnd: 1285, base: 1066, top: 924, max: 40, ticks: [0, 10, 20, 30, 40], centers: [1222, 1263], bw: 27,
    bars: bars2(F_MYEL, F_MYEL_ERR), tickSize: 18, cap: 0.3, wStroke: "#555", wsw: 2.4,
    sig: { a: ["WT", "WT"], b: ["KO", "KO"], v: 40.8, label: "*", o1: 1, o2: 3, size: 28 },
    ylab: [{ x: 1151, yc: 996, t: "Myelinated area (%)", size: 21 }] });
  legend2(g, 1199, 864, 886, 14, 1224, 16, "#555");
}

// ================= PANELS G, H =================
{
  const g = root.append("g");
  letter(g, 30, 1172, "G");
  legend2(g, 123, 1178, 1200, 13, 143, 16);
  barChart(g, { two: true, ax: 120, xEnd: 218, base: 1383, top: 1236, max: 20, ticks: [0, 5, 10, 15, 20], centers: [148, 190.5], bw: 27,
    bars: bars2(G_CDC, G_CDC_ERR), tickSize: 18, cap: 0.3,
    sig: { a: ["WT", "WT"], b: ["KO", "KO"], v: 19.6, label: "***", o1: -3.5, o2: -7, size: 28 },
    ylab: [{ x: 48, yc: 1307, t: "cDCs", size: 20 }, { x: 72, yc: 1307, t: "(x10^{5}/mL)", size: 20 }] });
  letter(g, 30, 1385, "H");
  barChart(g, { two: true, ax: 114, xEnd: 214, base: 1558, top: 1414, max: 15, ticks: [0, 5, 10, 15], centers: [145.5, 186.5], bw: 27,
    bars: bars2(H_CD4, H_CD4_ERR), tickSize: 18, cap: 0.3,
    sig: { a: ["WT", "WT"], b: ["KO", "KO"], v: 13.64, label: "**", o1: 4, o2: -11, size: 28 },
    ylab: [{ x: 46, yc: 1478, t: "CD4+ T cells", size: 20 }, { x: 71, yc: 1478, t: "(x10^{5}/mL)", size: 20 }] });
}

// ================= PANEL I =================
function contourBox(g, x, y, w, h, gate, num, nfx, ndy, cc) {
  g.append("rect").attr("x", x).attr("y", y).attr("width", w).attr("height", h).attr("fill", "#fff").attr("stroke", "#888").attr("stroke-width", 1.2);
  const n = 14;
  const line = d3.line().curve(d3.curveCardinalClosed.tension(0.2));
  for (let i = 1; i <= n; i++) {
    const t = i / n;
    const pts = d3.range(0, 24).map(j => {
      const a = j / 24 * 2 * Math.PI, s = Math.sin(a), co = Math.cos(a);
      const ry = s > 0 ? cc.ryB * t : (cc.ryB * t + (cc.ryT - cc.ryB) * t * t * t);
      const lean = s < 0 ? -s * cc.lean * t * t : 0;
      return [x + (cc.cx + cc.rx * t * co * (1 - 0.25 * (s < 0 ? -s : 0) * t) + lean) * w, y + (cc.cy + ry * s) * h];
    });
    g.append("path").attr("d", line(pts)).attr("fill", "none").attr("stroke", i > 2 && i < 9 ? "#444" : "#8a8a8a").attr("stroke-width", i > 2 && i < 9 ? 0.9 : 0.7);
  }
  g.append("rect").attr("x", x + gate[0] * w).attr("y", y + gate[2] * h).attr("width", (gate[1] - gate[0]) * w).attr("height", (gate[3] - gate[2]) * h)
    .attr("fill", "none").attr("stroke", "#333").attr("stroke-width", 1.2);
  T(g, x + nfx * w, y + ndy, num, { size: 16, anchor: "middle" });
}
{
  const g = root.append("g");
  letter(g, 291, 1211, "I");
  T(g, 375, 1241, "WT", { size: 20, anchor: "middle" });
  T(g, 507, 1241, KO_LABEL, { size: 20, anchor: "middle" });
  contourBox(g, 310, 1249, 129, 128, [0.26, 0.63, 0.26, 0.62], I_GATES[0], 0.71, 24, { cx: 0.42, cy: 0.8, rx: 0.14, ryB: 0.15, ryT: 0.36, lean: 0.05 });
  contourBox(g, 443, 1249, 129, 128, [0.27, 0.63, 0.26, 0.62], I_GATES[1], 0.67, 24, { cx: 0.4, cy: 0.76, rx: 0.17, ryB: 0.18, ryT: 0.4, lean: 0.06 });
  contourBox(g, 310, 1385, 129, 128, [0.20, 0.63, 0.25, 0.64], I_GATES[2], 0.70, 27, { cx: 0.41, cy: 0.81, rx: 0.13, ryB: 0.14, ryT: 0.34, lean: 0.03 });
  contourBox(g, 443, 1385, 129, 128, [0.19, 0.61, 0.25, 0.64], I_GATES[3], 0.67, 26, { cx: 0.4, cy: 0.78, rx: 0.16, ryB: 0.17, ryT: 0.44, lean: 0.06 });
  arrow(g, 294, 1322, 294, 1255);
  RT(g, 294, 1356, "IFN-γ", 20);
  arrow(g, 294, 1440, 294, 1398);
  RT(g, 294, 1470, "IL-17", 20);
  T(g, 314, 1536, "CD4", { size: 20 });
  arrow(g, 373, 1529, 468, 1529);
  legend2(g, 663, 1176, 1198, 13, 685, 16);
  barChart(g, { two: true, ax: 654, xEnd: 753, base: 1368, top: 1226, max: 40, ticks: [0, 10, 20, 30, 40], centers: [683, 724.5], bw: 26,
    bars: bars2(I_TH1, I_TH1_ERR), tickSize: 18, cap: 0.3,
    sig: { a: ["WT", "WT"], b: ["KO", "KO"], v: 35.6, label: "**", o1: 5, o2: -8.5, size: 28 },
    ylab: [{ x: 611, yc: 1297, t: "Th1 cells (%)", size: 20 }] });
  barChart(g, { two: true, ax: 654, xEnd: 753, base: 1539, top: 1392, max: 40, ticks: [0, 10, 20, 30, 40], centers: [683, 724.5], bw: 26,
    bars: bars2(I_TH17, I_TH17_ERR), tickSize: 18, cap: 0.3,
    sig: { a: ["WT", "WT"], b: ["KO", "KO"], v: 30.2, label: "**", o1: 6, o2: -1, size: 28 },
    ylab: [{ x: 611, yc: 1466, t: "Th17 cells (%)", size: 20 }] });
}

// ================= PANEL J =================
{
  const g = root.append("g");
  letter(g, 838, 1211, "J");
  lineChart(g, { xd: [0, 25], xr: [889, 1205], yd: [0, 3], yr: [1451, 1241],
    xticks: [0, 5, 10, 15, 20, 25], xlabels: [0, 5, 10, 15, 20, 25], minorLen: 7, majorLen: 7, xpad: 10, xsize: 19,
    yticks: [0, 1, 2, 3], ysize: 19, cap: 4.5,
    series: [
      { x: J_DAYS, v: J_KO, e: J_KO_ERR, dir: 1, color: "#3a5ec2", shape: "rect", size: 8 },
      { x: J_DAYS, v: J_WT, e: J_WT_ERR, dir: 1, color: "#ee3b3b", shape: "circle", size: 4.2 }
    ] });
  T(g, 1047, 1512, "Days after the last BMDCs immunization", { size: 20, anchor: "middle" });
  RT(g, 848, 1345, "Clinical score", 22);
  g.append("line").attr("x1", 903).attr("x2", 929).attr("y1", 1247).attr("y2", 1247).attr("stroke", "#ee3b3b").attr("stroke-width", 1.6);
  g.append("circle").attr("cx", 916).attr("cy", 1247).attr("r", 4.2).attr("fill", "#ee3b3b");
  T(g, 941, 1253, "WT BMDCs", { size: 17 });
  g.append("line").attr("x1", 903).attr("x2", 929).attr("y1", 1276).attr("y2", 1276).attr("stroke", "#3a5ec2").attr("stroke-width", 1.6);
  g.append("rect").attr("x", 912).attr("y", 1272).attr("width", 8).attr("height", 8).attr("fill", "#3a5ec2");
  T(g, 941, 1282, KO_LABEL + " BMDCs", { size: 17 });
  g.append("line").attr("x1", 1224).attr("x2", 1224).attr("y1", 1330).attr("y2", 1430).attr("stroke", "#000").attr("stroke-width", 2);
  T(g, 1254, 1386, "***", { size: 28, anchor: "middle", bold: true });
}
</script></body></html>
